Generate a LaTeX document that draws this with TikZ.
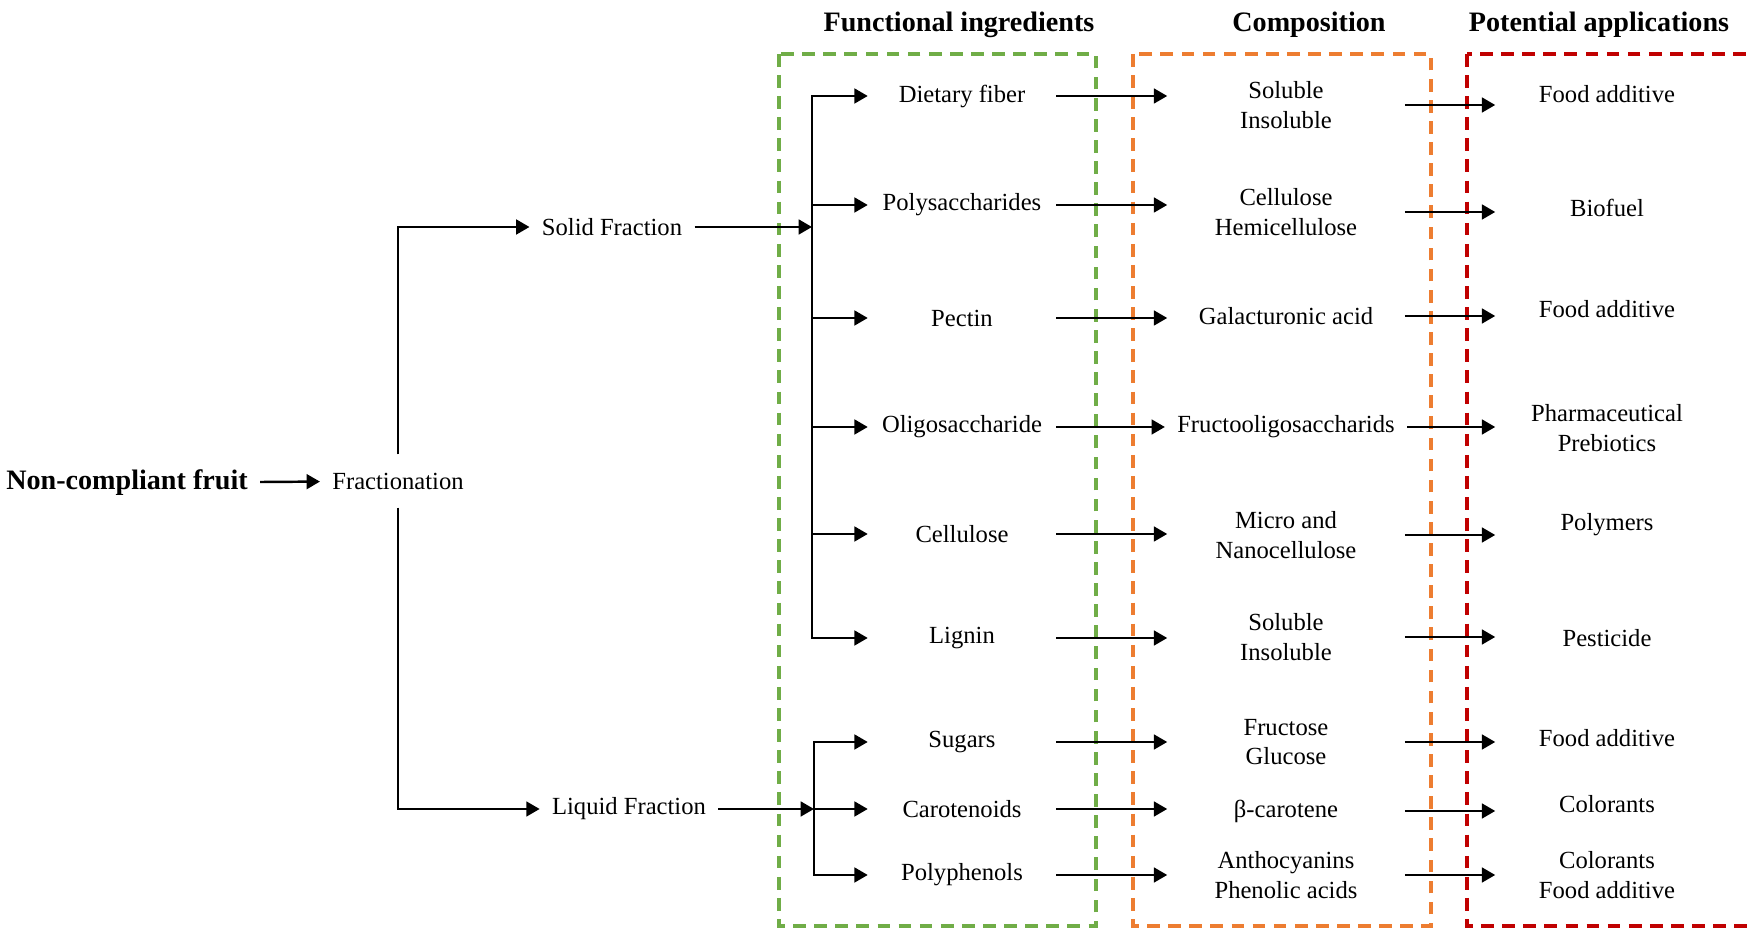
\documentclass[tikz,border=0pt]{standalone}
\usepackage{fontspec}
\setmainfont{Liberation Serif}
\usetikzlibrary{arrows.meta}
\usetikzlibrary{positioning}

\definecolor{boxgreen}{RGB}{112,173,71}
\definecolor{boxorange}{RGB}{237,125,49}
\definecolor{boxred}{RGB}{192,0,0}

\begin{document}
\begin{tikzpicture}[x=0.01cm,y=-0.01cm,
	every node/.style={font=\fontsize{7}{8.3}\selectfont, align=center},
	head/.style={font=\fontsize{8}{9}\selectfont\bfseries},
	arr/.style={-{Triangle[length=3.8pt,width=4.2pt]}, line width=0.7pt},
	frame/.style={line width=1pt, dash pattern=on 3.6pt off 2.4pt},
	ingr/.style={minimum width=1.87cm},
	comp/.style={minimum width=2.36cm},
	appl/.style={minimum width=2.22cm}]
	\clip (0,0) rectangle (1753,928);
	
	%dashed boxes
	\draw[frame,boxgreen] (779,54) rectangle (1096,926);
	\draw[frame,boxorange] (1133,54) rectangle (1431,926);
	\draw[frame,boxred] (1467,54) rectangle (1800,926);
	
	%column titles
	\node[head] (head_ingr) at (959,25) {Functional ingredients};
	\node[head] (head_comp) at (1309,25) {Composition};
	\node[head] (head_appl) at (1599,25) {Potential applications};
	
	%fractionation
	\node[head] (fruit) at (127,483) {Non-compliant fruit};
	\node[inner ysep=5pt] (frac) at (398,481) {Fractionation};
	\node (solid) at (612,227) {Solid Fraction};
	\node (liquid) at (629,809) {Liquid Fraction};
	
	\draw[arr] (fruit) -- (frac);
	\draw[arr] (frac.north) |- (solid.west);
	\draw[arr] (frac.south) |- (liquid.west);
	
	%functional ingredients
	\foreach \y/\txt [count=\i] in {96/Dietary fiber, 205/Polysaccharides, 318/Pectin, 427/Oligosaccharide, 534/Cellulose, 638/Lignin, 742/Sugars, 809/Carotenoids, 875/Polyphenols} {
		\node[ingr] (ingr\i) at (962,\y) {\txt};
	}
	
	%composition
	\foreach \y/\txt [count=\i] in {105/{Soluble\\Insoluble}, 212/{Cellulose\\Hemicellulose}, 316/Galacturonic acid, 427/Fructooligosaccharids, 535/{Micro and\\Nanocellulose}, 637/{Soluble\\Insoluble}, 742/{Fructose\\Glucose}, 811/β-carotene, 875/{Anthocyanins\\Phenolic acids}} {
		\node[comp] (comp\i) at (1286,\y) {\txt};
	}
	
	%applications
	\foreach \y/\txt [count=\i] in {94/Food additive, 208/Biofuel, 309/Food additive, 428/{Pharmaceutical\\Prebiotics}, 525/Polymers, 638/Pesticide, 738/Food additive, 804/Colorants, 875/{Colorants\\Food additive}} {
		\node[appl] (appl\i) at (1607,\y) {\txt};
	}
	
	%solid branch
	\coordinate (solid_join) at (812,227);
	\draw[arr] (solid) -- (solid_join);
	\draw[arr] (solid_join) |- (ingr1.west);
	\draw[arr] (solid_join) |- (ingr6.west);
	\foreach \i in {2,3,4,5} {
		\draw[arr] (ingr\i.west -| solid_join) -- (ingr\i.west);
	}
	
	%liquid branch
	\coordinate (liquid_join) at (814,809);
	\draw[arr] (liquid) -- (liquid_join);
	\draw[arr] (liquid_join) |- (ingr7.west);
	\draw[arr] (liquid_join) |- (ingr9.west);
	\draw[arr] (liquid_join) -- (ingr8.west);
	
	% Connect columns
	\foreach \i in {1,...,9} {
		\draw[arr] (ingr\i.east) -- (ingr\i.east -| comp\i.west);
		\draw[arr] (comp\i.east) -- (comp\i.east -| appl\i.west);
	}
\end{tikzpicture}
\end{document}
